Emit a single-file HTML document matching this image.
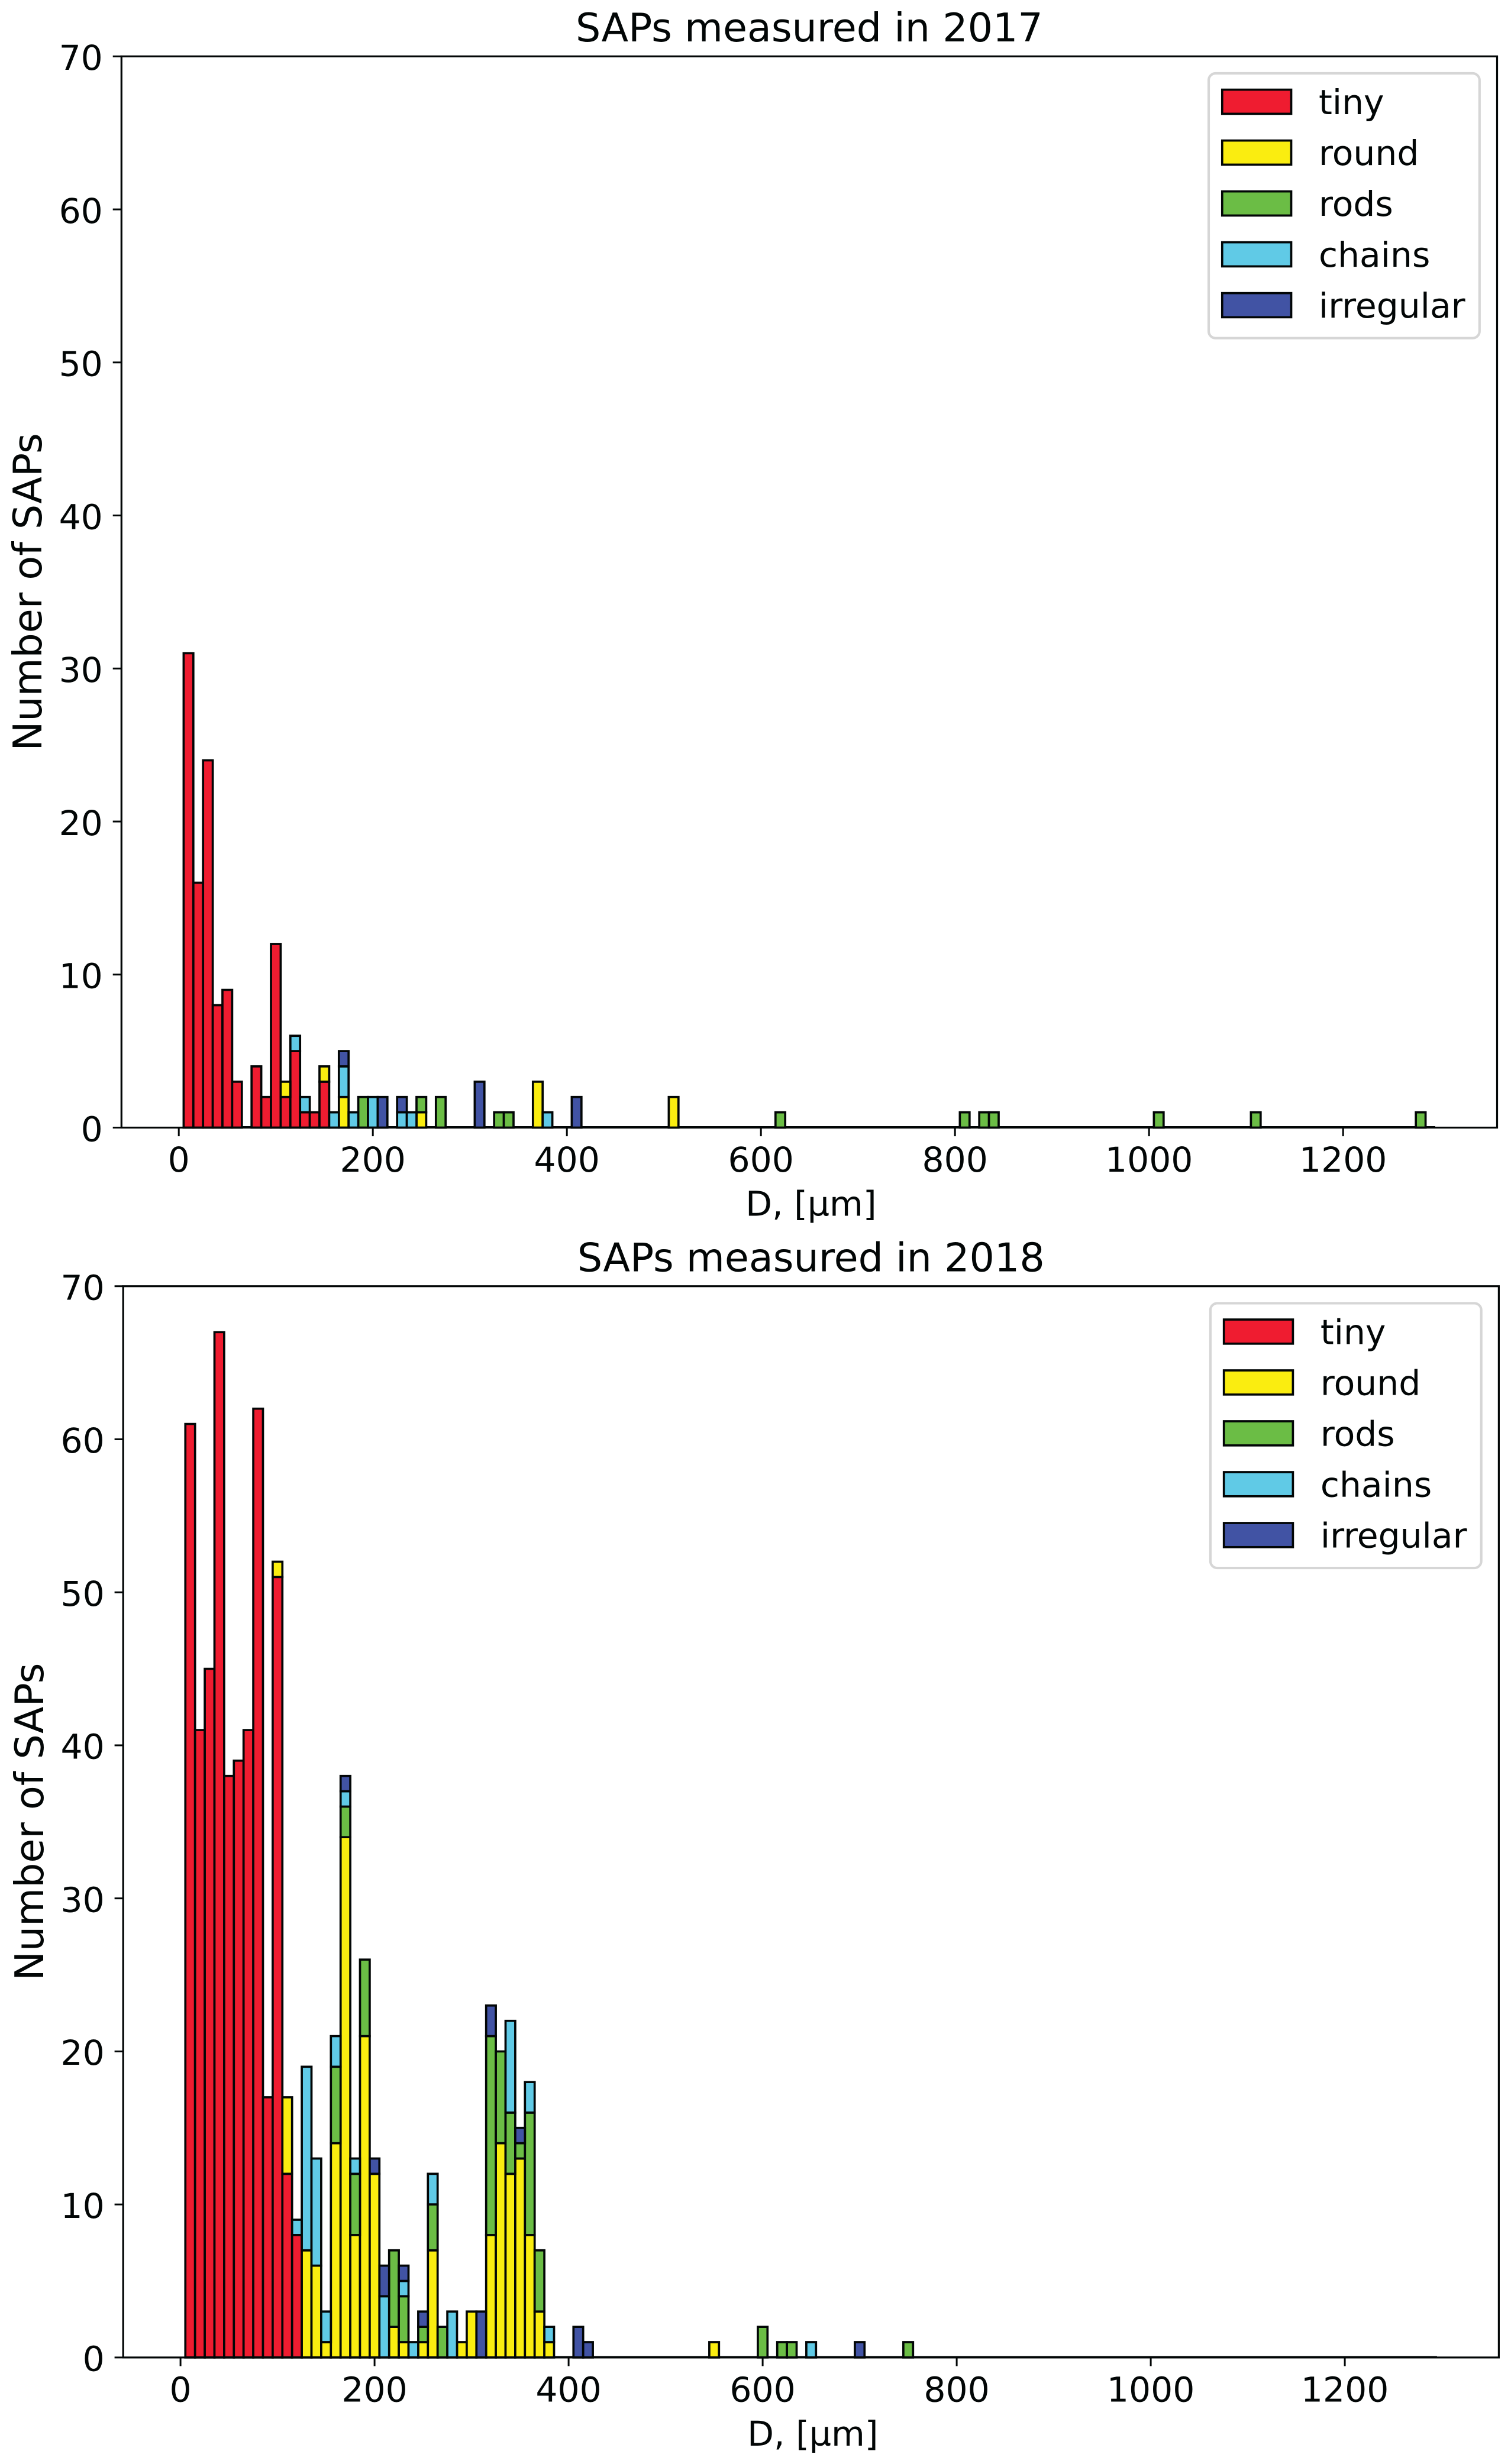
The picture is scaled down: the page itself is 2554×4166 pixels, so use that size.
<!DOCTYPE html>
<html lang="en">
<head>
<meta charset="utf-8">
<title>SAPs measured in 2017 and 2018</title>
<style>
  html, body { margin: 0; padding: 0; background: #fff; }
  svg { display: block; }
  text { font-family: "DejaVu Sans", "Liberation Sans", sans-serif; fill: #020606; }
</style>
</head>
<body>
<svg id="chart" xmlns="http://www.w3.org/2000/svg" width="2554" height="4166" viewBox="0 0 2554 4166"></svg>
<script>
// Shared axis values
const yTickValues = [0, 10, 20, 30, 40, 50, 60, 70];
const xTickValues = [0, 200, 400, 600, 800, 1000, 1200];
const seriesNames = ['tiny', 'round', 'rods', 'chains', 'irregular'];
const seriesColors = ['#ef1c30', '#faed10', '#6bbd45', '#60cae6', '#4153a4'];

// 2017: occupied histogram bins (centre in um) and counts per class
const bins2017 = [10,20,30,40,50,60,80,90,100,110,120,130,140,150,160,170,180,190,200,210,230,240,250,270,310,330,340,370,380,410,510,620,810,830,840,1010,1110,1280];
const tiny2017 = [31,16,24,8,9,3,4,2,12,2,5,1,1,3,0,0,0,0,0,0,0,0,0,0,0,0,0,0,0,0,0,0,0,0,0,0,0,0];
const round2017 = [0,0,0,0,0,0,0,0,0,1,0,0,0,1,0,2,0,0,0,0,0,0,1,0,0,0,0,3,0,0,2,0,0,0,0,0,0,0];
const rods2017 = [0,0,0,0,0,0,0,0,0,0,0,0,0,0,0,0,0,2,0,0,0,0,1,2,0,1,1,0,0,0,0,1,1,1,1,1,1,1];
const chains2017 = [0,0,0,0,0,0,0,0,0,0,1,1,0,0,1,2,1,0,2,0,1,1,0,0,0,0,0,0,1,0,0,0,0,0,0,0,0,0];
const irregular2017 = [0,0,0,0,0,0,0,0,0,0,0,0,0,0,0,1,0,0,0,2,1,0,0,0,3,0,0,0,0,2,0,0,0,0,0,0,0,0];

// 2018: occupied histogram bins (centre in um) and counts per class
const bins2018 = [10,20,30,40,50,60,70,80,90,100,110,120,130,140,150,160,170,180,190,200,210,220,230,240,250,260,270,280,290,300,310,320,330,340,350,360,370,380,410,420,550,600,620,630,650,700,750];
const tiny2018 = [61,41,45,67,38,39,41,62,17,51,12,8,0,0,0,0,0,0,0,0,0,0,0,0,0,0,0,0,0,0,0,0,0,0,0,0,0,0,0,0,0,0,0,0,0,0,0];
const round2018 = [0,0,0,0,0,0,0,0,0,1,5,0,7,6,1,14,34,8,21,12,0,2,1,0,1,7,0,0,1,3,0,8,14,12,13,8,3,1,0,0,1,0,0,0,0,0,0];
const rods2018 = [0,0,0,0,0,0,0,0,0,0,0,0,0,0,0,5,2,4,5,0,0,5,3,0,1,3,2,0,0,0,0,13,6,4,1,8,4,0,0,0,0,2,1,1,0,0,1];
const chains2018 = [0,0,0,0,0,0,0,0,0,0,0,1,12,7,2,2,1,1,0,0,4,0,1,1,0,2,0,3,0,0,0,0,0,6,0,2,0,1,0,0,0,0,0,0,1,0,0];
const irregular2018 = [0,0,0,0,0,0,0,0,0,0,0,0,0,0,0,0,1,0,0,1,2,0,1,0,1,0,0,0,0,0,3,2,0,0,1,0,0,0,2,1,0,0,0,0,0,1,0];

const binWidth = 10;
const histogramStart = 5;
const histogramEnd = 1295;

const INK = '#020606';
const BAR_STROKE = 3.7;
const SVG_NS = 'http://www.w3.org/2000/svg';
const root = document.getElementById('chart');

function make(parent, tag, attrs, text) {
  const el = document.createElementNS(SVG_NS, tag);
  for (const k in attrs) el.setAttribute(k, attrs[k]);
  if (text !== undefined) el.textContent = text;
  parent.appendChild(el);
  return el;
}

function drawPanel(cfg) {
  const g = make(root, 'g', {});
  
  

  const xScale = v => cfg.x0 + v * 1.64;
  const yScale = v => cfg.bottom - v * (cfg.bottom - cfg.top) / 70;

  // Zero-height bins along the whole histogram range
  const baseline = make(g, 'line', {
    x1: xScale(histogramStart), x2: xScale(histogramEnd),
    y1: yScale(0) - 0.6, y2: yScale(0) - 0.6,
    stroke: INK, 'stroke-width': BAR_STROKE
  });
  
  

  // Stacked bars, drawn class by class
  const stackBase = cfg.bins.map(() => 0);
  cfg.series.forEach((values, s) => {
    values.forEach((count, i) => {
      if (count === 0) return;
      const left = xScale(cfg.bins[i] - binWidth / 2);
      const right = xScale(cfg.bins[i] + binWidth / 2);
      const yLow = yScale(stackBase[i]);
      const yHigh = yScale(stackBase[i] + count);
      const bar = make(g, 'path', {
        d: 'M' + left + ' ' + yLow + 'V' + yHigh + 'H' + right + 'V' + yLow + 'Z',
        fill: seriesColors[s], stroke: INK, 'stroke-width': BAR_STROKE, 'stroke-linejoin': 'miter'
      });
      
      
      stackBase[i] += count;
    });
  });

  // Frame
  const frame = make(g, 'rect', {
    x: cfg.left, y: cfg.top, width: cfg.right - cfg.left, height: cfg.bottom - cfg.top,
    fill: 'none', stroke: INK, 'stroke-width': 3.2
  });
  
  

  // Y ticks
  yTickValues.forEach(v => {
    const tick = make(g, 'line', {
      x1: cfg.left - 14.6, x2: cfg.left, y1: yScale(v), y2: yScale(v),
      stroke: INK, 'stroke-width': 3
    });
    
    
    const label = make(g, 'text', {
      x: cfg.left - 31.5, y: yScale(v) + 22.8, 'text-anchor': 'end', 'font-size': 58.33
    }, String(v));
    
    
  });

  // X ticks
  xTickValues.forEach(v => {
    const tick = make(g, 'line', {
      x1: xScale(v), x2: xScale(v), y1: cfg.bottom, y2: cfg.bottom + 14.6,
      stroke: INK, 'stroke-width': 3
    });
    
    
    const label = make(g, 'text', {
      x: xScale(v), y: cfg.bottom + 74.5, 'text-anchor': 'middle', 'font-size': 58.33
    }, String(v));
    
    
  });

  // Titles
  const cx = (cfg.left + cfg.right) / 2;
  const title = make(g, 'text', {
    x: cx, y: cfg.top - 25.3, 'text-anchor': 'middle', 'font-size': 66.67
  }, 'SAPs measured in ' + cfg.year);
  
  

  const xTitle = make(g, 'text', {
    x: cx + 3, y: cfg.bottom + 149, 'text-anchor': 'middle', 'font-size': 58.33
  }, 'D, [\u00b5m]');
  
  

  const yTitleX = cfg.left - 135.3;
  const yTitleY = (cfg.top + cfg.bottom) / 2;
  const yTitle = make(g, 'text', {
    x: yTitleX, y: yTitleY, 'text-anchor': 'middle', 'font-size': 66.67,
    transform: 'rotate(-90 ' + yTitleX + ' ' + yTitleY + ')'
  }, 'Number of SAPs');
  
  

  // Legend
  const legend = make(g, 'g', {});
  
  
  const lx = cfg.left + 1837.7;
  const ly = cfg.top + 28.7;
  const legendBox = make(legend, 'rect', {
    x: lx, y: ly, width: 457.8, height: 447.7, rx: 11.7, ry: 11.7,
    fill: '#fff', stroke: '#d6d6d6', 'stroke-width': 4.17
  });
  
  
  seriesNames.forEach((name, i) => {
    const rowY = ly + 48 + i * 86;
    const swatch = make(legend, 'rect', {
      x: lx + 22.8, y: rowY - 20.4, width: 116.7, height: 40.8,
      fill: seriesColors[i], stroke: INK, 'stroke-width': BAR_STROKE
    });
    
    
    const label = make(legend, 'text', {
      x: lx + 186, y: rowY + 21, 'font-size': 58.33
    }, name);
    
    
  });
}

drawPanel({
  year: 2017, left: 205.3, right: 2530.5, top: 95.3, bottom: 1906.5, x0: 302.2,
  bins: bins2017,
  series: [tiny2017, round2017, rods2017, chains2017, irregular2017]
});
drawPanel({
  year: 2018, left: 208.2, right: 2533.4, top: 2174.7, bottom: 3985.9, x0: 305.1,
  bins: bins2018,
  series: [tiny2018, round2018, rods2018, chains2018, irregular2018]
});
</script>
</body>
</html>
